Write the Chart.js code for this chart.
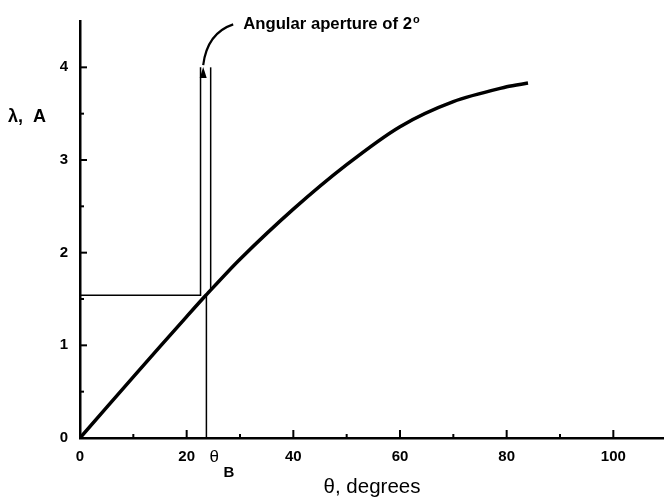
<!DOCTYPE html>
<html>
<head>
<meta charset="utf-8">
<script src="https://cdn.jsdelivr.net/npm/chart.js@4.4.0/dist/chart.umd.min.js"></script>
<style>
  html, body { margin: 0; padding: 0; background: #fff; }
  #wrap { width: 664px; height: 501px; }
</style>
</head>
<body>
<div id="wrap"><canvas id="grafico"></canvas></div>
<script>
// curva lambda x theta
const theta = [0, 10, 20, 23.6, 30, 40, 50, 60, 70, 80, 84]
const lambda = [0, 0.66, 1.31, 1.54, 1.93, 2.47, 2.95, 3.36, 3.63, 3.79, 3.83]

// abertura angular de 2 graus
const aberturaEsq = 22.6
const aberturaDir = 24.5
const aberturaTopo = 4.0
const thetaB = 23.7
const lambdaB = 1.54
const lambdaDirBase = 1.6

const xTicks = [0, 20, 40, 60, 80, 100]
const yTicks = [0, 1, 2, 3, 4]

const fonte = '"Liberation Sans", Arial, sans-serif'

function pontos(xs, ys) {
  return xs.map((x, i) => ({ x: x, y: ys[i] }))
}

const desenhos = {
  id: 'desenhos',
  afterDraw(chart) {
    const ctx = chart.ctx
    const sx = chart.scales.x
    const sy = chart.scales.y
    const x0 = sx.getPixelForValue(0)
    const y0 = sy.getPixelForValue(0)
    ctx.save()
    ctx.strokeStyle = '#000'
    ctx.fillStyle = '#000'
    ctx.lineWidth = 2
    // ticks para dentro
    for (let v = 10; v <= 100; v += 10) {
      const p = sx.getPixelForValue(v)
      const len = v % 20 === 0 ? 8 : 4
      ctx.beginPath(); ctx.moveTo(p, y0); ctx.lineTo(p, y0 - len); ctx.stroke()
    }
    for (let v = 0.5; v <= 4; v += 0.5) {
      const p = sy.getPixelForValue(v)
      const len = v % 1 === 0 ? 7 : 4
      ctx.beginPath(); ctx.moveTo(x0, p); ctx.lineTo(x0 + len, p); ctx.stroke()
    }

    // seta curva
    const tx = sx.getPixelForValue(30.6)
    const ty = sy.getPixelForValue(4.41)
    const ax = sx.getPixelForValue(23.1)
    const ay = sy.getPixelForValue(3.96)
    ctx.lineWidth = 2.2
    ctx.beginPath()
    ctx.moveTo(tx - 10, ty - 5)
    ctx.quadraticCurveTo(ax + 4, ay - 38, ax, ay - 6)
    ctx.stroke()
    ctx.beginPath()
    ctx.moveTo(ax - 3.5, ay + 7)
    ctx.lineTo(ax + 3.5, ay + 7)
    ctx.lineTo(ax, ay - 4)
    ctx.closePath()
    ctx.fill()

    // textos
    ctx.textBaseline = 'alphabetic'
    ctx.textAlign = 'left'
    ctx.font = 'bold 16.7px ' + fonte
    const txt = 'Angular aperture of 2'
    ctx.fillText(txt, tx, ty)
    const w = ctx.measureText(txt).width
    ctx.font = 'bold 11px ' + fonte
    ctx.fillText('o', tx + w + 1, ty - 6)

    ctx.font = 'bold 18px ' + fonte
    ctx.fillText('\u03bb,  A', 8, 122)

    const bx = sx.getPixelForValue(thetaB)
    ctx.font = '17px ' + fonte
    ctx.fillText('\u03b8', bx + 3, y0 + 24)
    ctx.font = 'bold 15px ' + fonte
    ctx.fillText('B', bx + 17, y0 + 39)
    ctx.restore()
  }
}

const graficoLambda = new Chart(document.getElementById('grafico'), {
  type: 'scatter',
  data: {
    datasets: [
      {
        data: pontos(theta, lambda),
        showLine: true,
        borderColor: '#000',
        borderWidth: 3.5,
        pointRadius: 0,
        tension: 0.3
      },
      {
        data: pontos([0, aberturaEsq, aberturaEsq], [lambdaB, lambdaB, aberturaTopo]),
        showLine: true,
        borderColor: '#000',
        borderWidth: 1.5,
        pointRadius: 0
      },
      {
        data: pontos([aberturaDir, aberturaDir], [lambdaDirBase, aberturaTopo]),
        showLine: true,
        borderColor: '#000',
        borderWidth: 1.5,
        pointRadius: 0
      },
      {
        data: pontos([thetaB, thetaB], [lambdaB, 0]),
        showLine: true,
        borderColor: '#000',
        borderWidth: 1.5,
        pointRadius: 0
      }
    ]
  },
  options: {
    responsive: true,
    maintainAspectRatio: false,
    animation: false,
    layout: { padding: { top: 20, right: 0, left: 0, bottom: 0 } },
    plugins: { legend: { display: false }, tooltip: { enabled: false } },
    scales: {
      x: {
        type: 'linear',
        min: 0,
        max: 109.5,
        afterFit: s => { s.height = 63; s.paddingLeft = 0; s.paddingRight = 0 },
        grid: { display: false, drawTicks: false },
        border: { display: true, color: '#000', width: 2.5 },
        ticks: {
          stepSize: 10,
          includeBounds: false,
          autoSkip: false,
          maxRotation: 0,
          padding: 10,
          color: '#000',
          font: { family: fonte, size: 15, weight: 'bold' },
          callback: v => xTicks.includes(v) ? String(v) : ''
        },
        title: {
          display: true,
          text: '\u03b8, degrees',
          color: '#000',
          font: { family: fonte, size: 20.5 },
          padding: { top: 8, bottom: 1 }
        }
      },
      y: {
        type: 'linear',
        min: 0,
        max: 4.5,
        afterFit: s => { s.width = 80 },
        grid: { display: false, drawTicks: false },
        border: { display: true, color: '#000', width: 2.5 },
        ticks: {
          stepSize: 0.5,
          autoSkip: false,
          padding: 12,
          color: '#000',
          font: { family: fonte, size: 15, weight: 'bold' },
          callback: v => yTicks.includes(v) ? String(v) : ''
        }
      }
    }
  },
  plugins: [desenhos]
})
</script>
</body>
</html>
